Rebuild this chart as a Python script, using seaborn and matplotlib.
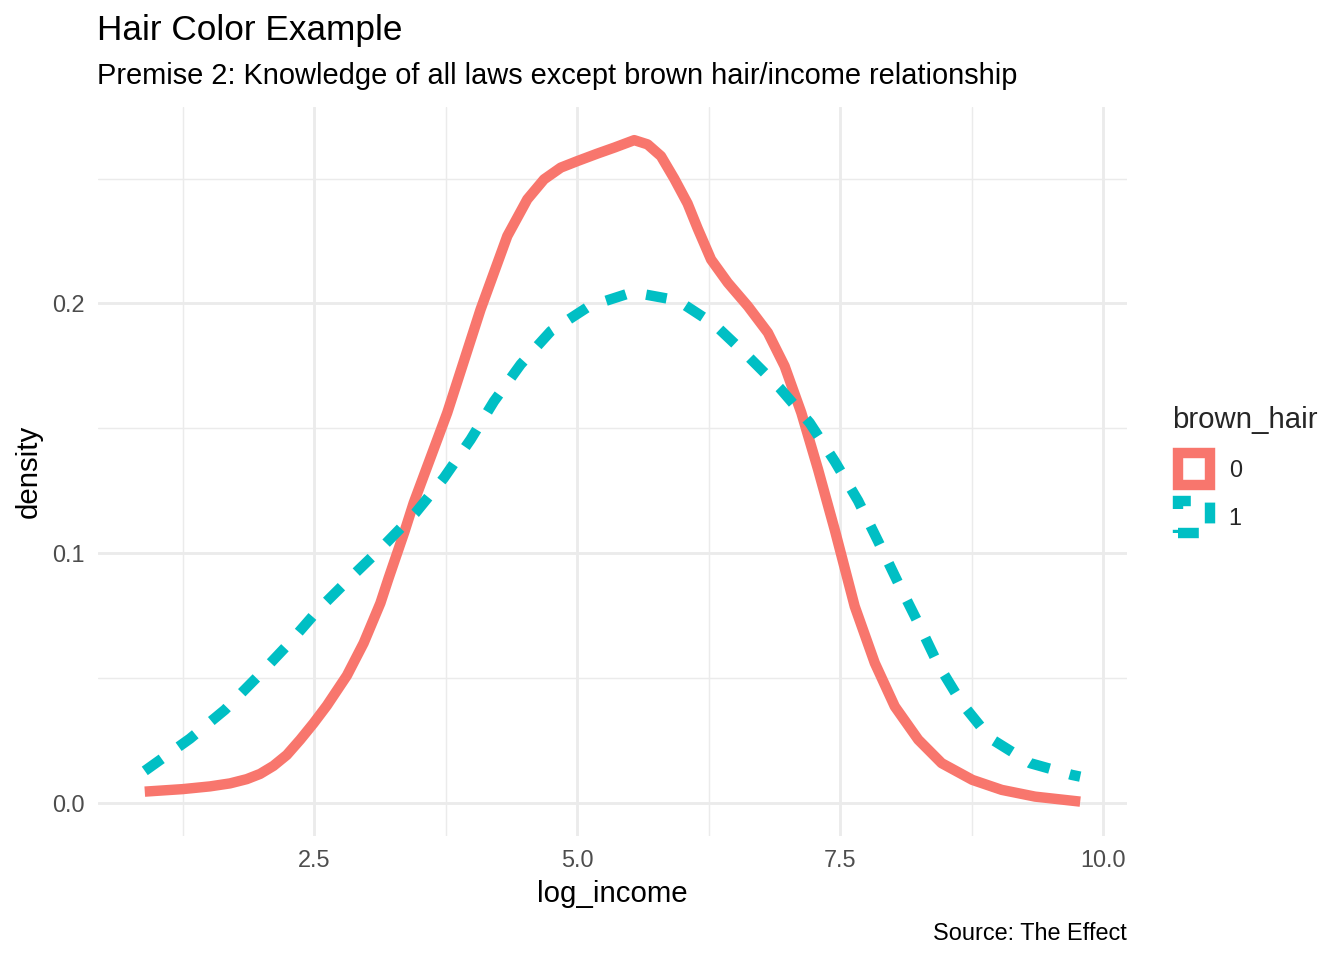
import numpy as np
import pandas as pd
import matplotlib
matplotlib.use("Agg")
import matplotlib.pyplot as plt
import seaborn as sns
from matplotlib.patches import Patch, Rectangle
from matplotlib.legend_handler import HandlerPatch

# ---- data (density curves) ----
x_hair0 = [0.890, 1.249, 1.510, 1.700, 1.859, 1.986, 2.112, 2.240, 2.367, 2.494,
           2.621, 2.811, 2.970, 3.129, 3.207, 3.357, 3.445, 3.764, 4.081, 4.335,
           4.525, 4.684, 4.843, 5.000, 5.190, 5.351, 5.541, 5.668, 5.795, 5.921,
           6.048, 6.144, 6.271, 6.430, 6.621, 6.811, 6.970, 7.129, 7.288, 7.446,
           7.636, 7.827, 8.017, 8.240, 8.462, 8.754, 9.033, 9.350, 9.779]
y_hair0 = [0.0045, 0.0055, 0.0066, 0.0078, 0.0095, 0.0116, 0.0148, 0.0192, 0.0253, 0.0319,
           0.0390, 0.0510, 0.0640, 0.0800, 0.0900, 0.1085, 0.1201, 0.1562, 0.1976, 0.2270,
           0.2417, 0.2497, 0.2544, 0.2570, 0.2600, 0.2624, 0.2654, 0.2637, 0.2590, 0.2500,
           0.2400, 0.2300, 0.2176, 0.2083, 0.1989, 0.1883, 0.1749, 0.1562, 0.1335, 0.1094,
           0.0787, 0.0560, 0.0386, 0.0253, 0.0159, 0.0092, 0.0052, 0.0025, 0.0005]

x_hair1 = [0.890, 1.319, 1.652, 1.954, 2.255, 2.540, 2.843, 3.160, 3.462, 3.732,
           3.986, 4.208, 4.462, 4.748, 5.113, 5.525, 5.954, 6.303, 6.621, 6.922,
           7.208, 7.446, 7.668, 7.859, 8.049, 8.240, 8.430, 8.652, 8.922, 9.303,
           9.700, 9.779]
y_hair1 = [0.0128, 0.0257, 0.0373, 0.0502, 0.0636, 0.0774, 0.0901, 0.1030, 0.1161, 0.1301,
           0.1455, 0.1608, 0.1756, 0.1889, 0.1989, 0.2045, 0.2012, 0.1916, 0.1789, 0.1662,
           0.1522, 0.1368, 0.1210, 0.1047, 0.0881, 0.0720, 0.0553, 0.0400, 0.0259, 0.0159,
           0.0112, 0.0105]

groups = ["0", "1"]
colors = ["#F8766D", "#00BFC4"]
x_ticks = [2.5, 5.0, 7.5, 10.0]
x_ticklabels = ["2.5", "5.0", "7.5", "10.0"]
y_ticks = [0.0, 0.1, 0.2]
y_ticklabels = ["0.0", "0.1", "0.2"]

df = pd.concat([
    pd.DataFrame({"log_income": x_hair0, "density": y_hair0, "brown_hair": "0"}),
    pd.DataFrame({"log_income": x_hair1, "density": y_hair1, "brown_hair": "1"}),
], ignore_index=True)

sns.set_theme(style="white")
plt.rcParams["font.family"] = ["Liberation Sans", "DejaVu Sans"]

fig = plt.figure(figsize=(7, 5), dpi=192)
ax = fig.add_axes([98 / 1344, 1 - 836 / 960, (1127 - 98) / 1344, (836 - 107) / 960])

LW = 3.9
DASH = (2.0, 2.0)
sns.lineplot(data=df, x="log_income", y="density", hue="brown_hair", style="brown_hair",
             palette=dict(zip(groups, colors)),
             dashes={"0": "", "1": DASH}, linewidth=LW, ax=ax, legend=False,
             sort=False, estimator=None)
for ln in ax.get_lines():
    ln.set_dash_capstyle("butt")
    ln.set_solid_capstyle("butt")
    ln.set_solid_joinstyle("round")
    ln.set_dash_joinstyle("round")

# limits with ggplot-style 5% expansion
xmin, xmax = min(x_hair0 + x_hair1), max(x_hair0 + x_hair1)
ymax = max(y_hair0 + y_hair1)
dx = (xmax - xmin) * 0.05
ax.set_xlim(xmin - dx, xmax + dx)
ax.set_ylim(-ymax * 0.05, ymax * 1.05)

ax.set_xticks(x_ticks)
ax.set_xticklabels(x_ticklabels)
ax.set_yticks(y_ticks)
ax.set_yticklabels(y_ticklabels)
ax.set_xticks([1.25, 3.75, 6.25, 8.75], minor=True)
ax.set_yticks([0.05, 0.15, 0.25], minor=True)
ax.grid(which="major", color="#EBEBEB", linewidth=1.07)
ax.grid(which="minor", color="#EBEBEB", linewidth=0.53)
ax.set_axisbelow(True)
for s in ax.spines.values():
    s.set_visible(False)
ax.tick_params(which="both", length=0, pad=5, labelsize=8.8, labelcolor="#4D4D4D")

ax.set_xlabel("log_income", fontsize=11, color="black", labelpad=3)
ax.set_ylabel("density", fontsize=11, color="black", labelpad=3.5)

fig.text(97 / 1344, 1 - 40 / 960, "Hair Color Example", fontsize=13.2, ha="left",
         va="baseline", color="black")
fig.text(97 / 1344, 1 - 84 / 960,
         "Premise 2: Knowledge of all laws except brown hair/income relationship",
         fontsize=10.9, ha="left", va="baseline", color="black")
fig.text(1127 / 1344, 1 - 940 / 960, "Source: The Effect", fontsize=8.8, ha="right",
         va="baseline", color="black")

KEY = 12.0     # key square size in points
KEY_OFF = 2.2  # inset of key from the title start, points


def key_rect(legend, orig_handle, xdescent, ydescent, width, height, fontsize):
    return Rectangle((-xdescent + KEY_OFF, -ydescent + (height - KEY) / 2), KEY, KEY)


handles = [
    Patch(facecolor="none", edgecolor=colors[0], linewidth=LW, joinstyle="round",
          label=groups[0]),
    Patch(facecolor="none", edgecolor=colors[1], linewidth=LW, joinstyle="round",
          linestyle=(0, DASH), label=groups[1]),
]
leg = fig.legend(handles=handles, title="brown_hair", loc="upper left",
                 bbox_to_anchor=(1156 / 1344, 1 - 390 / 960), frameon=False,
                 fontsize=8.8, title_fontsize=11, handlelength=1.6,
                 handleheight=1.36, labelspacing=0.92, handletextpad=0.8,
                 borderpad=0.2, alignment="left",
                 handler_map={Patch: HandlerPatch(patch_func=key_rect)})

fig.savefig("out.png", dpi=192)
